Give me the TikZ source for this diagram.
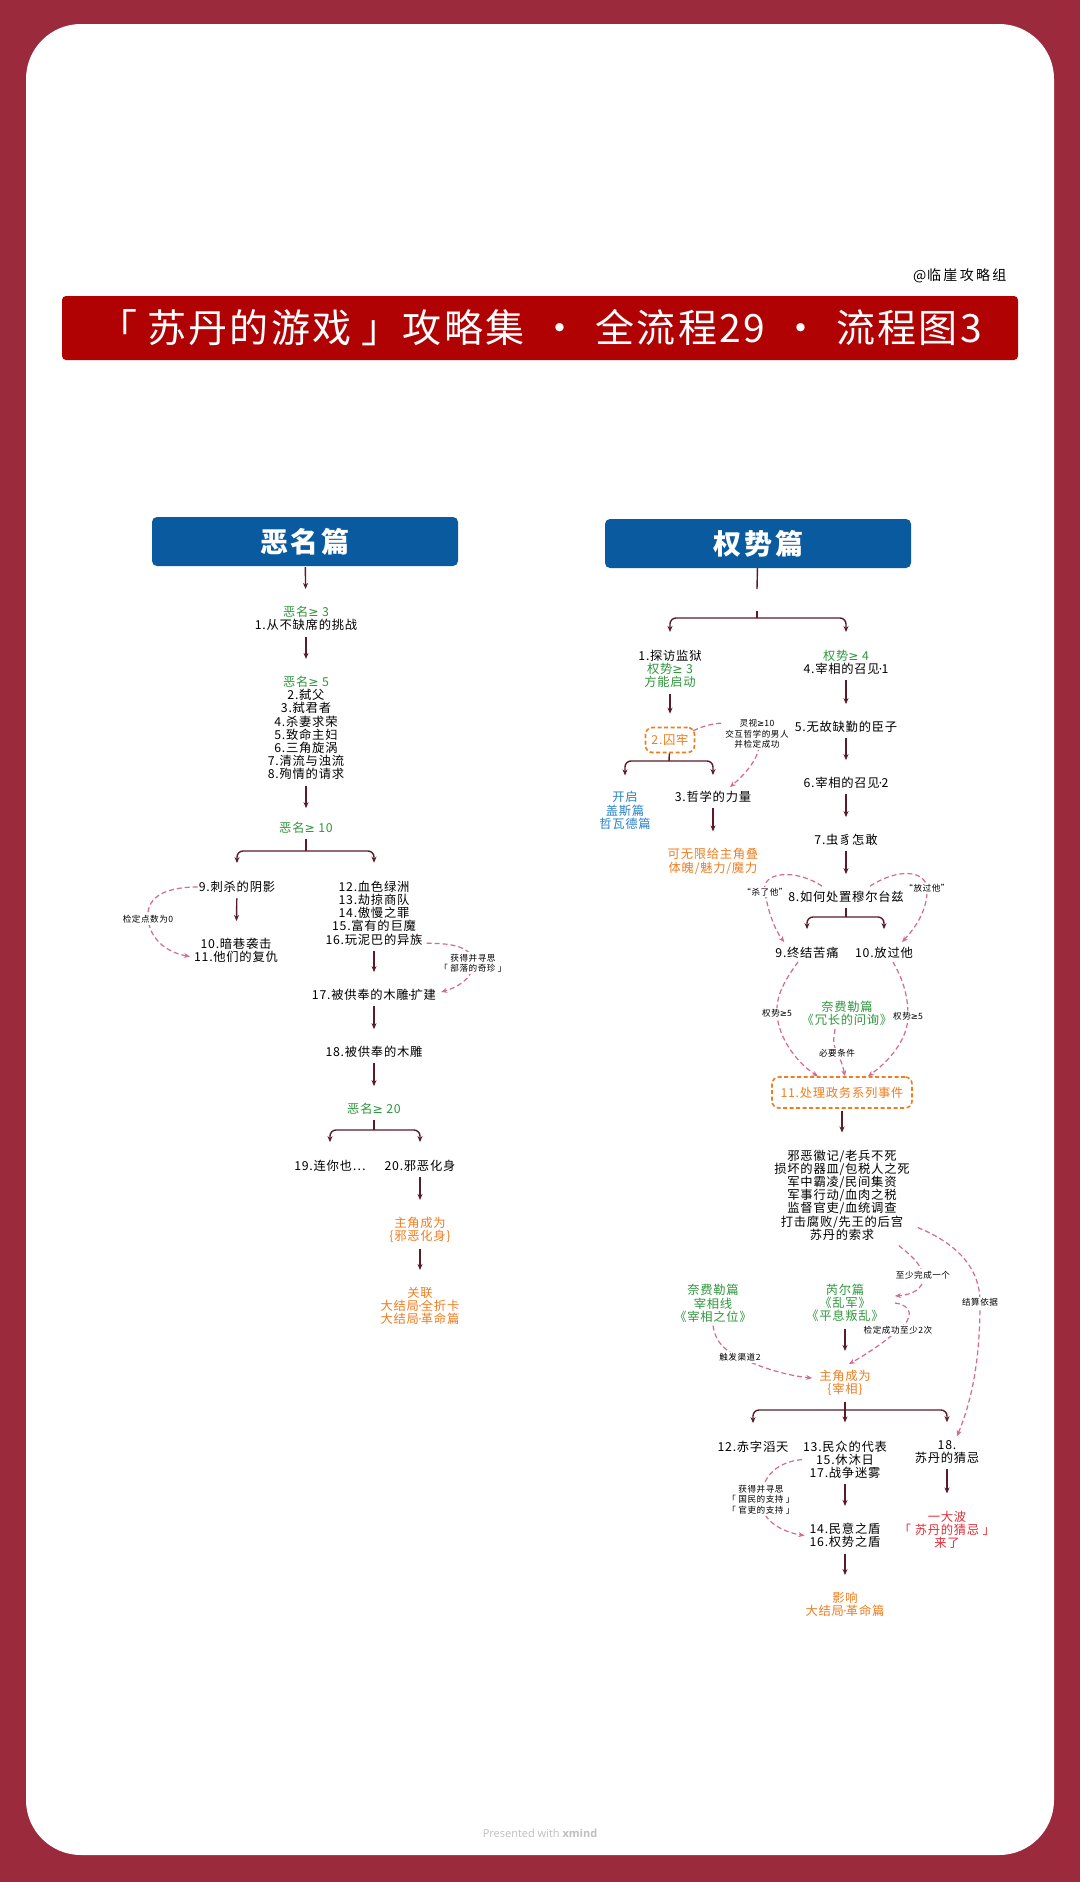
\documentclass[tikz,border=0pt]{standalone}
\usepackage{fontspec}
\setmainfont[LetterSpace=6]{Noto Sans CJK SC}
\newfontfamily\xmfont{Open Sans}
\newfontfamily\dotfont{DejaVu Sans}
\newcommand\mdot{{\dotfont\kern-1pt·\kern-1pt}}
\newcommand\mygeq{{\dotfont ≥}}
\usetikzlibrary{calc,arrows.meta}
\definecolor{bgred}{RGB}{155,42,60}
\definecolor{titlered}{RGB}{176,2,2}
\definecolor{hblue}{RGB}{10,90,160}
\definecolor{grn}{RGB}{46,150,60}
\definecolor{org}{RGB}{240,125,30}
\definecolor{blu}{RGB}{40,130,200}
\definecolor{rd}{RGB}{225,45,55}
\definecolor{pnk}{RGB}{214,105,145}
\definecolor{arrc}{RGB}{90,28,42}
\definecolor{xgray}{RGB}{190,190,190}
\tikzset{
  txt/.style={font=\fontsize{12.3}{13.2}\selectfont, align=center, inner sep=1pt},
  lab/.style={font=\fontsize{8.6}{10.5}\selectfont, align=center, inner sep=1.5pt, fill=white},
  hdr/.style={fill=hblue, rounded corners=5pt, minimum width=306, minimum height=49, text=white, font=\fontsize{28}{30}\selectfont\bfseries},
  obox/.style={draw=org, dash pattern=on 4pt off 2.5pt, line width=1.6pt, rounded corners=7pt, text=org, font=\fontsize{12.3}{13.2}\selectfont, inner sep=1pt},
  flow/.style={draw=arrc, line width=1.4pt, -{Stealth[length=6pt,width=5pt]}, shorten <=4.5pt, shorten >=16pt},
  bline/.style={draw=arrc, line width=1.4pt},
  barr/.style={draw=arrc, line width=1.4pt, rounded corners=6pt, -{Stealth[length=6pt,width=5pt]}, shorten >=17pt},
  rel/.style={draw=pnk, line width=1.2pt, dash pattern=on 5pt off 3pt, -{Stealth[length=6pt,width=5pt]}},
}
\begin{document}
\begin{tikzpicture}[x=1pt,y=-1pt]
\useasboundingbox (0,0) rectangle (1080,1882);
\fill[bgred] (0,0) rectangle (1080,1882);
\fill[white, rounded corners=55pt] (26,24) rectangle (1054,1855);

% title
\node[anchor=east, font=\fontsize{14}{15}\selectfont] (sig) at (1010,276) {@临\,崖\,攻\,略\,组};
\node[fill=titlered, rounded corners=4pt, minimum width=956, minimum height=64, text=white, font=\fontsize{39}{41}\selectfont] (title) at (540,328)
  {「\hspace{10pt}苏丹的游戏\hspace{10pt}」攻略集\hspace{16pt}·\hspace{16pt}全流程29\hspace{16pt}·\hspace{16pt}流程图3};

% headers
\node[hdr] (hL) at (305,541.5) {恶\hspace{3pt}名\hspace{3pt}篇};
\node[hdr] (hR) at (758,543.5) {权\hspace{3pt}势\hspace{3pt}篇};

% ---------------- left column ----------------
\node[txt] (L1) at (306,618.5) {\textcolor{grn}{恶名\mygeq\ 3}\\1.从不缺席的挑战};
\node[txt] (L2) at (306,728) {\textcolor{grn}{恶名\mygeq\ 5}\\2.弑父\\3.弑君者\\4.杀妻求荣\\5.致命主妇\\6.三角旋涡\\7.清流与浊流\\8.殉情的请求};
\node[txt,text=grn] (L3) at (306,828) {恶名\mygeq\ 10};
\node[txt] (L9) at (237,887) {9.刺杀的阴影};
\node[txt] (L10) at (236,950.5) {10.暗巷袭击\\11.他们的复仇};
\node[txt] (L12) at (374,913) {12.血色绿洲\\13.劫掠商队\\14.傲慢之罪\\15.富有的巨魔\\16.玩泥巴的异族};
\node[txt] (L17) at (374,995) {17.被供奉的木雕\mdot 扩建};
\node[txt] (L18) at (374,1052) {18.被供奉的木雕};
\node[txt,text=grn] (L20c) at (374,1109) {恶名\mygeq\ 20};
\node[txt] (L19) at (330,1166) {19.连你也…};
\node[txt] (L20) at (420,1166) {20.邪恶化身};
\node[txt,text=org] (L21) at (420,1230) {主角成为\\\{邪恶化身\}};
\node[txt,text=org] (L22) at (420,1306) {关联\\大结局\mdot 全折卡\\大结局\mdot 革命篇};

\draw[flow, shorten <=1pt] (hL) -- (L1);
\draw[flow] (L1) -- (L2);
\draw[flow, shorten >=13pt] (L2) -- (L3);
\coordinate (bL3) at (306,851);
\draw[bline, shorten <=4.5pt] (L3) -- (bL3);
\draw[barr] (bL3) -| (L9.north);
\draw[barr] (bL3) -| (L12.north);
\draw[flow] (L9) -- (L10);
\draw[flow] (L12) -- (L17);
\draw[flow] (L17) -- (L18);
\draw[flow] (L18) -- (L20c);
\coordinate (bL20) at (374,1130);
\draw[bline, shorten <=4.5pt] (L20c) -- (bL20);
\draw[barr] (bL20) -| (L19.north);
\draw[barr] (bL20) -| (L20.north);
\draw[flow] (L20) -- (L21);
\draw[flow] (L21) -- (L22);

% relations left
\coordinate (c1) at (148,919);
\draw[rel] (L9.west) .. controls (160,887) and (146,900) .. (c1) .. controls (150,938) and (165,952) .. ($(L10.west)+(-3,6)$);
\node[lab] (lb1) at (c1) {检定点数为0};
\coordinate (c2) at (473,963);
\draw[rel] ($(L12.south east)+(3,-3)$) .. controls (455,943) and (473,948) .. (c2) .. controls (473,980) and (455,988) .. ($(L17.east)+(4,-3)$);
\node[lab] (lb2) at (c2) {获得并寻思\\「 部落的奇珍 」};

% ---------------- right column ----------------
\coordinate (rA) at (757,589);
\coordinate (rB) at (757,611);
\coordinate (rC) at (757,618);
\draw[bline] (hR) -- (rA);
\draw[bline] (rB) -- (rC);

\node[txt] (R1) at (670,669) {1.探访监狱\\\textcolor{grn}{权势\mygeq\ 3}\\\textcolor{grn}{方能启动}};
\node[txt] (R4) at (846,662.5) {\textcolor{grn}{权势\mygeq\ 4}\\4.宰相的召见\mdot 1};
\draw[barr] (rC) -| (R1.north);
\draw[barr] (rC) -| (R4.north);

\node[obox, minimum width=49, minimum height=25] (R2) at (670,740) {2.囚牢};
\node[txt,text=blu] (Rk) at (625,810.5) {开启\\盖斯篇\\哲瓦德篇};
\node[txt] (R3) at (713,797) {3.哲学的力量};
\node[txt,text=org] (R3b) at (713,861.5) {可无限给主角叠\\体魄/魅力/魔力};
\draw[flow, shorten >=13pt] (R1) -- (R2);
\coordinate (bR2) at (669,761);
\draw[bline] (R2) -- (bR2);
\draw[barr, shorten >=15pt] (bR2) -| (Rk.north);
\draw[barr, shorten >=15pt] (bR2) -| (R3.north);
\draw[flow] (R3) -- (R3b);

\node[txt] (R5) at (846,727) {5.无故缺勤的臣子};
\node[txt] (R6) at (846,783) {6.宰相的召见\mdot 2};
\node[txt] (R7) at (846,840) {7.虫豸怎敢};
\node[txt] (R8) at (846,897) {8.如何处置穆尔台兹};
\draw[flow] (R4) -- (R5);
\draw[flow] (R5) -- (R6);
\draw[flow] (R6) -- (R7);
\draw[flow] (R7) -- (R8);
\node[txt] (R9) at (807,953) {9.终结苦痛};
\node[txt] (R10) at (884,953) {10.放过他};
\coordinate (bR8) at (846,917);
\draw[bline, shorten <=4.5pt] (R8) -- (bR8);
\draw[barr] (bR8) -| (R9.north);
\draw[barr] (bR8) -| (R10.north);

\node[txt,text=grn] (Rn) at (847,1013.5) {奈费勒篇\\《冗长的问询》};
\node[obox, minimum width=140, minimum height=31] (R11) at (842,1092.5) {11.处理政务系列事件};
\node[txt] (R12) at (842,1195) {邪恶徽记/老兵不死\\损坏的器皿/包税人之死\\军中霸凌/民间集资\\军事行动/血肉之税\\监督官吏/血统调查\\打击腐败/先王的后宫\\苏丹的索求};
\draw[flow, shorten <=2pt] (R11) -- (R12);

\node[txt,text=grn] (Rf) at (713,1303.5) {奈费勒篇\\宰相线\\《宰相之位》};
\node[txt,text=grn] (Rr) at (845,1303) {芮尔篇\\《乱军》\\《平息叛乱》};
\node[txt,text=org] (Rz) at (845,1383) {主角成为\\\{宰相\}};
\draw[flow, shorten <=6pt, shorten >=18pt] (Rr) -- (Rz);

\node[txt] (R12b) at (753,1447) {12.赤字滔天};
\node[txt] (R13) at (845,1459.5) {13.民众的代表\\15.休沐日\\17.战争迷雾};
\node[txt] (R18) at (947,1452) {18.\\苏丹的猜忌};
\coordinate (bRz) at (845,1410);
\draw[bline, shorten <=4.5pt] (Rz) -- (bRz);
\draw[barr] (bRz) -| (R12b.north);
\draw[barr] (bRz) -- (R13.north);
\draw[barr] (bRz) -| (R18.north);

\node[txt] (R14) at (845,1535.5) {14.民意之盾\\16.权势之盾};
\node[txt,text=org] (R15) at (845,1604.5) {影响\\大结局\mdot 革命篇};
\node[txt,text=rd] (R19) at (947,1529.5) {一大波\\「 苏丹的猜忌 」\\来了};
\draw[flow] (R13) -- (R14);
\draw[flow] (R14) -- (R15);
\draw[flow] (R18) -- (R19);

% relations right
\coordinate (c3) at (757,734);
\draw[rel] ($(R2.north east)+(-2,4)$) .. controls (715,720) and (740,720) .. (c3) .. controls (765,750) and (750,770) .. ($(R3.north)+(17,-3)$);
\node[lab] (lb3) at (c3) {灵视\mygeq 10\\交互哲学的男人\\并检定成功};

\coordinate (c4) at (765,892);
\draw[rel] ($(R8.north)+(-24,-4)$) .. controls (795,868) and (760,872) .. (c4) .. controls (768,912) and (775,930) .. ($(R9.north west)+(10,-4)$);
\node[lab] (lb4) at (c4) {“杀了他”};
\coordinate (c5) at (927,888);
\draw[rel] ($(R8.north)+(24,-4)$) .. controls (898,868) and (925,870) .. (c5) .. controls (928,910) and (915,928) .. ($(R10.north east)+(-12,-4)$);
\node[lab] (lb5) at (c5) {“放过他”};

\coordinate (c6) at (777,1013);
\draw[rel] ($(R9.south)+(-9,2)$) .. controls (785,980) and (776,995) .. (c6) .. controls (778,1040) and (800,1065) .. ($(R11.north)+(-24,0)$);
\node[lab] (lb6) at (c6) {权势\mygeq 5};
\coordinate (c7) at (908,1016);
\draw[rel] ($(R10.south)+(9,2)$) .. controls (903,980) and (908,995) .. (c7) .. controls (908,1040) and (888,1062) .. ($(R11.north)+(26,0)$);
\node[lab] (lb7) at (c7) {权势\mygeq 5};
\coordinate (c8) at (837,1053);
\draw[rel] ($(Rn.south)+(-12,2)$) .. controls (833,1043) .. (c8) .. controls (842,1063) .. ($(R11.north)+(3,0)$);
\node[lab] (lb8) at (c8) {必要条件};

\coordinate (c9) at (923,1275);
\draw[rel] ($(R12.south east)+(-12,4)$) .. controls (910,1255) and (920,1262) .. (c9) .. controls (925,1290) and (910,1295) .. ($(Rr.east)+(10,-7)$);
\node[lab] (lb9) at (c9) {至少完成一个};
\coordinate (c10) at (980,1302);
\draw[rel] ($(R12.south east)+(7,-14)$) .. controls (960,1245) and (980,1270) .. (c10) .. controls (980,1360) and (972,1400) .. ($(R18.north)+(10,-3)$);
\node[lab] (lb10) at (c10) {结算依据};
\coordinate (c11) at (898,1330);
\draw[rel] ($(Rr.east)+(10,0)$) .. controls (912,1305) and (915,1318) .. (c11) .. controls (885,1342) and (865,1355) .. ($(Rz.north)+(4,-5)$);
\node[lab] (lb11) at (c11) {检定成功至少2次};
\coordinate (c12) at (740,1357);
\draw[rel] ($(Rf.south)+(0,2)$) .. controls (716,1345) and (728,1352) .. (c12) .. controls (760,1368) and (790,1376) .. ($(Rz.west)+(-6,-5)$);
\node[lab] (lb12) at (c12) {触发渠道2};
\coordinate (c13) at (761,1499.5);
\draw[rel] (R13.west) .. controls (778,1462) and (762,1475) .. (c13) .. controls (760,1520) and (782,1532) .. ($(R14.west)+(-4,0)$);
\node[lab] (lb13) at (c13) {获得并寻思\\「 国民的支持 」\\「 官吏的支持 」};

\node[text=xgray, font=\xmfont\fontsize{11}{12}\selectfont] (xm) at (540,1833) {Presented with \textbf{xmind}};
\end{tikzpicture}
\end{document}
